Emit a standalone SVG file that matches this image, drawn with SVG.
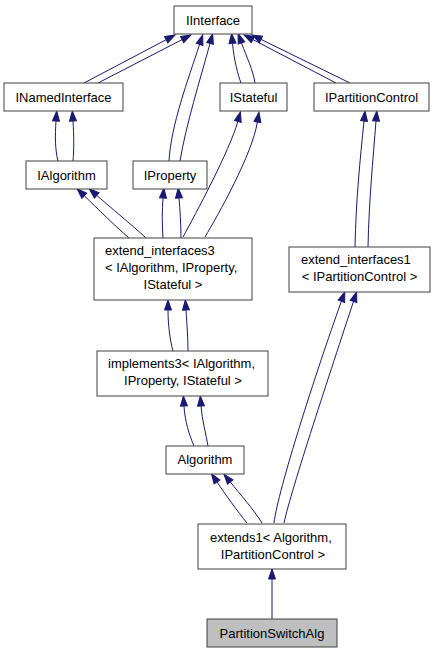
<svg xmlns="http://www.w3.org/2000/svg" width="435" height="653" viewBox="0 0 435 653">
<style>
.node rect{fill:#ffffff;stroke:#404040;stroke-width:1}
.node text{font-family:"Liberation Sans",Arial,sans-serif;font-size:13px;fill:#000000}
.m{text-anchor:middle}
.edges path{fill:none;stroke:#191970;stroke-width:1;marker-end:url(#ah)}
</style>
<defs>
<marker id="ah" markerWidth="10" markerHeight="7" refX="0" refY="3.5" orient="auto" markerUnits="userSpaceOnUse" viewBox="0 0 10 7" overflow="visible">
<path d="M0,0 L10,3.5 L0,7 z" fill="#191970" stroke="#191970" stroke-width="1"/>
</marker>
</defs>
<rect width="435" height="653" fill="#ffffff"/>
<g id="edges" class="edges">
<path d="M84,83 L166.2,39.7"/>
<path d="M98,83 L182.1,39.6"/>
<path d="M169,161 C171,125 188,80 199.6,44.4"/>
<path d="M180,161 C186,125 200,80 210,43.5"/>
<path d="M241,83 C238,75 234,60 232.5,43.4"/>
<path d="M255,83 C253,70 247,58 241.5,42.9"/>
<path d="M336,83 L252.9,39.6"/>
<path d="M350,83 L261,39.4"/>
<path d="M58,161 C55,150 55,135 56,121"/>
<path d="M73,161 C74,150 74,135 73,121"/>
<path d="M129,238 C115,226 97,208 84.3,195.8"/>
<path d="M146,238 C132,225 110,207 96.7,195.4"/>
<path d="M163,238 C162,225 162,210 163,198"/>
<path d="M181,238 C181,225 180,210 179,198"/>
<path d="M183,237 C195,215 230,150 237.8,121.5"/>
<path d="M205,237 C218,215 252,155 257.4,122"/>
<path d="M355,247 C356,200 360,160 364,121"/>
<path d="M368,247 C369,200 373,160 376,121"/>
<path d="M173,351 C170,340 168,325 168,310"/>
<path d="M188,351 C188,340 187,325 186,310"/>
<path d="M194,446 C189,434 185,422 184,406"/>
<path d="M208,446 C206,434 202,420 201,406"/>
<path d="M247,523 C238,512 225,494 217,482"/>
<path d="M262,523 C254,510 240,494 230.2,481.9"/>
<path d="M274,523 C278,490 316,372 341.4,301.3"/>
<path d="M284,523 C291,490 331,370 353.5,301.4"/>
<path d="M272,619 L272,579"/>
</g>
<g id="IInterface" class="node"><rect x="174" y="6" width="78" height="28"/><text class="m" x="213" y="24.5">IInterface</text></g>
<g id="INamedInterface" class="node"><rect x="4" y="83" width="119" height="28"/><text class="m" x="63.5" y="101.5">INamedInterface</text></g>
<g id="IStateful" class="node"><rect x="220" y="83" width="67" height="28"/><text class="m" x="253.5" y="101.5">IStateful</text></g>
<g id="IPartitionControl" class="node"><rect x="314" y="83" width="115" height="28"/><text class="m" x="371.5" y="101.5">IPartitionControl</text></g>
<g id="IAlgorithm" class="node"><rect x="26" y="161" width="81" height="28"/><text class="m" x="66.5" y="179.5">IAlgorithm</text></g>
<g id="IProperty" class="node"><rect x="133" y="161" width="74" height="28"/><text class="m" x="170" y="179.5">IProperty</text></g>
<g id="extend_interfaces3" class="node"><rect x="94" y="238" width="158" height="62"/><text x="105" y="254.5">extend_interfaces3</text><text x="105" y="271.5">&lt; IAlgorithm, IProperty,</text><text class="m" x="173" y="288.5">IStateful &gt;</text></g>
<g id="extend_interfaces1" class="node"><rect x="289" y="247" width="141" height="45"/><text x="301" y="264">extend_interfaces1</text><text class="m" x="359.5" y="281">&lt; IPartitionControl &gt;</text></g>
<g id="implements3" class="node"><rect x="97" y="351" width="171" height="45"/><text x="108" y="368">implements3&lt; IAlgorithm,</text><text class="m" x="183" y="385">IProperty, IStateful &gt;</text></g>
<g id="Algorithm" class="node"><rect x="166" y="446" width="78" height="28"/><text class="m" x="205" y="464">Algorithm</text></g>
<g id="extends1" class="node"><rect x="198" y="524" width="148" height="45"/><text x="210" y="541.5">extends1&lt; Algorithm,</text><text class="m" x="273" y="558.5">IPartitionControl &gt;</text></g>
<g id="PartitionSwitchAlg" class="node"><rect x="207" y="619" width="130" height="28" style="fill:#bfbfbf"/><text class="m" x="272" y="637.5">PartitionSwitchAlg</text></g>
</svg>
